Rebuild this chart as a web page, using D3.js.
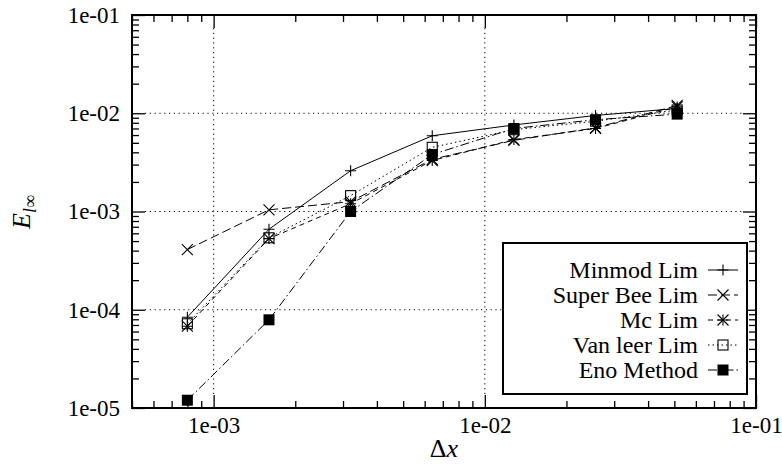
<!DOCTYPE html>
<html><head><meta charset="utf-8">
<script src="https://cdn.jsdelivr.net/npm/d3@7"></script>
<style>body{margin:0;background:#fff} svg{display:block}
#c text, #c tspan {font-family: "Liberation Serif", "Times New Roman", Tinos, serif !important;}
</style>
</head><body>
<svg id="c" width="782" height="466" style="font-family:'Liberation Serif',serif"></svg>
<script>
// ---- data ----
const dx        = [0.0008, 0.0016, 0.0032, 0.0064, 0.0128, 0.0256, 0.0512];
const minmod    = [8.4e-5, 6.6e-4, 2.6e-3, 5.9e-3, 7.6e-3, 9.5e-3, 1.12e-2];
const superBee  = [4.1e-4, 1.04e-3, 1.26e-3, 3.4e-3, 5.3e-3, 7.1e-3, 1.2e-2];
const mcLim     = [6.8e-5, 5.3e-4, 1.2e-3, 3.3e-3, 5.4e-3, 7.0e-3, 1.16e-2];
const vanLeer   = [7.2e-5, 5.4e-4, 1.45e-3, 4.5e-3, 6.8e-3, 8.3e-3, 1.08e-2];
const enoMethod = [1.2e-5, 7.9e-5, 1.0e-3, 3.8e-3, 7.0e-3, 8.6e-3, 9.8e-3];
const seriesNames = ["Minmod Lim", "Super Bee Lim", "Mc Lim", "Van leer Lim", "Eno Method"];
const seriesValues = [minmod, superBee, mcLim, vanLeer, enoMethod];
const xTickValues = [1e-3, 1e-2, 1e-1];
const xTickLabels = ["1e-03", "1e-02", "1e-01"];
const yTickValues = [1e-5, 1e-4, 1e-3, 1e-2, 1e-1];
const yTickLabels = ["1e-05", "1e-04", "1e-03", "1e-02", "1e-01"];

// ---- styles ----
const dashes  = [null, "9,4", "5,4", "1.5,3", "9,3,1.5,3"];
const markers = ["plus", "cross", "star", "box", "fbox"];
const FONT = "'Liberation Serif', 'Times New Roman', serif";

const svg = d3.select("#c");
const L = 132, R = 756, T = 15, B = 408;

const x = d3.scaleLog().domain([5e-4, 1e-1]).range([L, R]);
const y = d3.scaleLog().domain([1e-5, 1e-1]).range([B, T]);

const isMajor = v => Math.abs(Math.log10(v) - Math.round(Math.log10(v))) < 1e-9;
const xMinor = x.ticks().filter(v => !isMajor(v));
const yMinor = y.ticks().filter(v => !isMajor(v));

// grid
const grid = svg.append("g").attr("stroke", "#000").attr("stroke-width", 1)
  .attr("stroke-dasharray", "1.2,3.6").attr("fill", "none");
xTickValues.filter(v => v > 5e-4 && v < 1e-1).forEach(v => {
  grid.append("line").attr("x1", x(v)).attr("x2", x(v)).attr("y1", T + 13).attr("y2", B - 13);
});
yTickValues.filter(v => v > 1e-5 && v < 1e-1).forEach(v => {
  grid.append("line").attr("y1", y(v)).attr("y2", y(v)).attr("x1", L + 13).attr("x2", R - 13);
});

function styleAxis(g) {
  g.select(".domain").remove();
  g.attr("font-family", null).style("font-family", FONT).attr("font-size", 23);
  g.selectAll(".tick line").attr("stroke", "#000").attr("stroke-width", 1.3);
  g.selectAll("text").style("font-family", FONT).style("font-size", "23px").attr("fill", "#000");
}
const fmtX = v => xTickLabels[xTickValues.indexOf(v)];
const fmtY = v => yTickLabels[yTickValues.indexOf(v)];

// bottom
svg.append("g").attr("transform", `translate(0,${B})`)
  .call(d3.axisBottom(x).tickValues(xTickValues).tickSize(-13).tickPadding(9).tickFormat(fmtX)).call(styleAxis);
svg.append("g").attr("transform", `translate(0,${B})`)
  .call(d3.axisBottom(x).tickValues(xMinor).tickSize(-7).tickFormat("")).call(styleAxis);
// top
svg.append("g").attr("transform", `translate(0,${T})`)
  .call(d3.axisTop(x).tickValues(xTickValues).tickSize(-13).tickFormat("")).call(styleAxis);
svg.append("g").attr("transform", `translate(0,${T})`)
  .call(d3.axisTop(x).tickValues(xMinor).tickSize(-7).tickFormat("")).call(styleAxis);
// left
svg.append("g").attr("transform", `translate(${L},0)`)
  .call(d3.axisLeft(y).tickValues(yTickValues).tickSize(-13).tickPadding(12).tickFormat(fmtY)).call(styleAxis);
svg.append("g").attr("transform", `translate(${L},0)`)
  .call(d3.axisLeft(y).tickValues(yMinor).tickSize(-7).tickFormat("")).call(styleAxis);
// right
svg.append("g").attr("transform", `translate(${R},0)`)
  .call(d3.axisRight(y).tickValues(yTickValues).tickSize(-13).tickFormat("")).call(styleAxis);
svg.append("g").attr("transform", `translate(${R},0)`)
  .call(d3.axisRight(y).tickValues(yMinor).tickSize(-7).tickFormat("")).call(styleAxis);

// markers
function drawMarker(g, type, cx, cy) {
  const s = 5.5, b = 5;
  if (type === "plus" || type === "star")
    g.append("path").attr("d", `M${cx - s},${cy}H${cx + s}M${cx},${cy - s}V${cy + s}`).attr("stroke", "#000").attr("stroke-width", 1.1).attr("fill", "none");
  if (type === "cross" || type === "star")
    g.append("path").attr("d", `M${cx - s},${cy - s}L${cx + s},${cy + s}M${cx - s},${cy + s}L${cx + s},${cy - s}`).attr("stroke", "#000").attr("stroke-width", 1.1).attr("fill", "none");
  if (type === "box")
    g.append("rect").attr("x", cx - b).attr("y", cy - b).attr("width", 2 * b).attr("height", 2 * b).attr("stroke", "#000").attr("stroke-width", 1.1).attr("fill", "none");
  if (type === "fbox")
    g.append("rect").attr("x", cx - 5.5).attr("y", cy - 5.5).attr("width", 11).attr("height", 11).attr("fill", "#000");
}

// lines
const line = d3.line().x(d => x(d[0])).y(d => y(d[1]));
const plot = svg.append("g");
seriesValues.forEach((vals, i) => {
  const pts = dx.map((d, j) => [d, vals[j]]);
  plot.append("path").attr("d", line(pts)).attr("fill", "none").attr("stroke", "#000")
    .attr("stroke-width", 1).attr("stroke-dasharray", dashes[i]);
});
seriesValues.forEach((vals, i) => {
  dx.forEach((d, j) => drawMarker(plot, markers[i], x(d), y(vals[j])));
});

// frame
svg.append("rect").attr("x", L).attr("y", T).attr("width", R - L).attr("height", B - T)
  .attr("fill", "none").attr("stroke", "#000").attr("stroke-width", 2);

// legend
const lg = svg.append("g");
lg.append("rect").attr("x", 503).attr("y", 243).attr("width", 244).attr("height", 151)
  .attr("fill", "#fff").attr("stroke", "#000").attr("stroke-width", 2);
seriesNames.forEach((name, i) => {
  const cy = 270 + i * 25;
  lg.append("text").attr("x", 698).attr("y", cy).attr("dy", "0.35em").attr("text-anchor", "end")
    .style("font-family", FONT).style("font-size", "24px").text(name);
  lg.append("line").attr("x1", 708).attr("x2", 738).attr("y1", cy).attr("y2", cy)
    .attr("stroke", "#000").attr("stroke-width", 1).attr("stroke-dasharray", dashes[i]);
  drawMarker(lg, markers[i], 723, cy);
});

// axis titles
const xt = svg.append("text").attr("x", 444).attr("y", 457).attr("text-anchor", "middle")
  .style("font-family", FONT).style("font-size", "26px");
xt.append("tspan").text("Δ");
xt.append("tspan").style("font-style", "italic").text("x");

const yt = svg.append("text").attr("transform", "translate(30,212) rotate(-90)").attr("text-anchor", "middle")
  .style("font-family", FONT).style("font-size", "26px");
yt.append("tspan").style("font-style", "italic").text("E");
yt.append("tspan").style("font-size", "18px").attr("dy", 6).style("font-style", "italic").text("l");
yt.append("tspan").style("font-size", "18px").text("∞");
</script>
</body></html>
